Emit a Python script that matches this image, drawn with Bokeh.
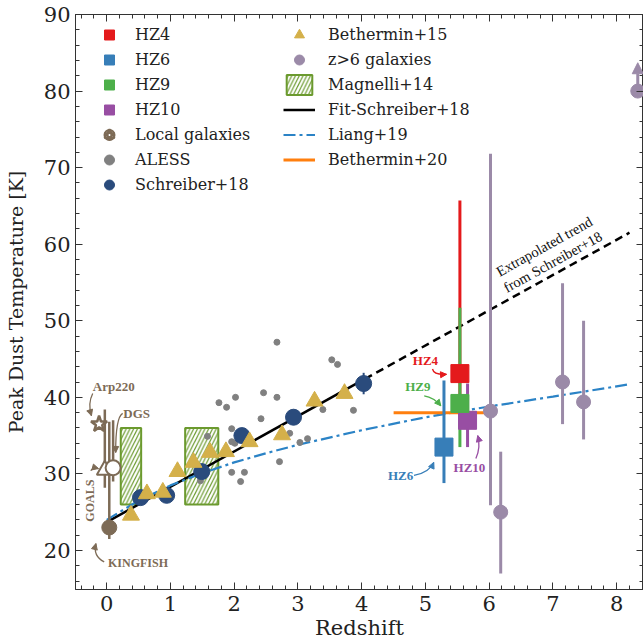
import numpy as np
from bokeh.plotting import figure
from bokeh.models import (Range1d, LinearAxis, SingleIntervalTicker, Legend, LegendItem,
                          ColumnDataSource, Arrow, NormalHead, CustomJSTickFormatter)
from bokeh.core.properties import value
from bokeh.embed import file_html
from bokeh.resources import INLINE

# ---------------- data ----------------
hz_names = ["HZ4", "HZ6", "HZ9", "HZ10"]
hz_z = [5.54, 5.29, 5.54, 5.66]
hz_T = [43.1, 33.5, 39.2, 37.0]
hz_T_lo = [36.0, 28.8, 33.5, 33.5]
hz_T_hi = [65.7, 42.2, 51.7, 41.8]
hz_colors = ["#e41a1c", "#377eb8", "#4daf4a", "#984ea3"]

local_names = ["Arp220", "GOALS", "DGS", "KINGFISH"]
local_z = [-0.12, -0.03, 0.10, 0.04]
local_T = [36.5, 30.5, 30.8, 23.0]
local_T_lo = [36.5, 28.2, 29.0, 21.5]
local_T_hi = [36.5, 38.4, 37.0, 36.8]

aless_z = [2.67, 3.53, 3.62, 1.76, 2.02, 1.88, 2.46, 2.67, 2.42, 3.39, 3.87, 1.96,
           1.96, 2.01, 1.58, 2.87, 3.15, 3.03, 2.71, 1.96, 2.16, 2.10, 1.47]
aless_T = [47.2, 44.9, 44.3, 39.3, 40.0, 38.7, 40.6, 40.0, 37.2, 38.4, 38.3, 35.9,
           34.2, 34.0, 34.9, 35.3, 34.6, 34.1, 31.6, 30.2, 30.2, 29.0, 29.1]

schreiber_z = [0.53, 0.94, 1.49, 2.12, 2.93, 4.03]
schreiber_T = [26.9, 27.2, 30.3, 35.0, 37.4, 41.8]
schreiber_err = [0.5, 0.5, 0.6, 0.8, 1.0, 1.4]

bethermin15_z = [0.38, 0.63, 0.88, 1.11, 1.36, 1.62, 1.87, 2.24, 2.75, 3.26, 3.73]
bethermin15_T = [24.6, 27.4, 27.6, 30.3, 31.5, 32.8, 32.9, 34.2, 35.1, 39.5, 40.5]

z6_z = [6.02, 6.18, 7.15, 7.48]
z6_T = [38.2, 25.0, 42.0, 39.4]
z6_T_lo = [25.9, 17.0, 36.5, 34.5]
z6_T_hi = [71.8, 32.9, 54.9, 50.0]
z6_limit_z = [8.33]
z6_limit_T = [80.0]
z6_limit_to = [83.7]

magnelli_zlo = [0.22, 1.23]
magnelli_zhi = [0.54, 1.75]
magnelli_Tlo = [26.0, 26.0]
magnelli_Thi = [36.0, 36.0]

fit_z = [0.0, 4.05]
fit_T = [23.7, 42.4]
extrap_z = [4.05, 8.2]
extrap_T = [42.4, 61.5]

liang_z = [0.0, 0.5, 1.0, 1.5, 2.0, 2.5, 3.0, 4.0, 5.0, 6.0, 7.0, 8.2]
liang_T = [24.0, 26.5, 28.5, 30.1, 31.5, 32.7, 33.8, 35.7, 37.4, 38.8, 40.1, 41.7]

bethermin20_z = [4.5, 6.0]
bethermin20_T = [38.0, 38.0]

# ---------------- styles ----------------
BROWN = "#7d6b56"
NAVY = "#2a4b7c"
GOLD = "#d4b04a"
LILAC = "#9b8aa8"
OLIVE = "#6b9a2e"
SERIF = "DejaVu Serif"
ANNF = "Liberation Serif"

p = figure(width=643, height=643, x_range=Range1d(-0.49, 8.42), y_range=Range1d(14.9, 90.0),
           output_backend="svg", toolbar_location=None,
           min_border_left=75, min_border_right=0, min_border_top=14, min_border_bottom=54)
p.xgrid.visible = False
p.ygrid.visible = False
p.outline_line_color = "#333333"
p.background_fill_color = "white"


def style_axis(ax, ticker, show_labels):
    ax.ticker = ticker
    ax.axis_line_color = "#333333"
    ax.major_tick_line_color = "#333333"
    ax.minor_tick_line_color = "#333333"
    ax.major_tick_in = 7
    ax.major_tick_out = 0
    ax.minor_tick_in = 4
    ax.minor_tick_out = 0
    ax.major_label_text_font = SERIF
    ax.major_label_text_color = "#222222"
    ax.axis_label_text_font = SERIF
    ax.axis_label_text_font_style = "normal"
    ax.axis_label_text_color = "#222222"
    if show_labels:
        ax.major_label_text_font_size = "21px"
        ax.axis_label_text_font_size = "21px"
    else:
        ax.formatter = CustomJSTickFormatter(code="return ''")
        ax.major_label_standoff = 0


xt = lambda: SingleIntervalTicker(interval=1, num_minor_ticks=5)
yt = lambda: SingleIntervalTicker(interval=10, num_minor_ticks=5)

xa = p.xaxis[0]
ya = p.yaxis[0]
style_axis(xa, xt(), True)
style_axis(ya, yt(), True)
xa.axis_label = "Redshift"
ya.axis_label = "Peak Dust Temperature [K]"
ya.axis_label_text_font_size = "19px"
xa.major_label_standoff = 6
xa.axis_label_standoff = 2
ya.major_label_standoff = 5
ya.axis_label_standoff = 14

ra = LinearAxis()
style_axis(ra, yt(), False)
p.add_layout(ra, "right")
ta = LinearAxis()
style_axis(ta, xt(), False)
p.add_layout(ta, "above")

# Magnelli+14 boxes
r_mag = p.quad(left=magnelli_zlo, right=magnelli_zhi, bottom=magnelli_Tlo, top=magnelli_Thi,
               fill_color="white", fill_alpha=0.0, line_color=OLIVE, line_width=2,
               hatch_pattern="/", hatch_color=OLIVE, hatch_scale=7.5, hatch_weight=1.2)

# lines
r_fit = p.line(fit_z, fit_T, line_color="black", line_width=2.5)
p.line(extrap_z, extrap_T, line_color="black", line_width=2.5, line_dash="8 5")
r_liang = p.line(liang_z, liang_T, line_color="#2b83c6", line_width=2.2, line_dash="12 4 3 4")
r_b20 = p.line(bethermin20_z, bethermin20_T, line_color="#ff7f0e", line_width=3)

# ALESS
r_aless = p.scatter(aless_z, aless_T, size=6, color="#808080", marker="circle")

# Schreiber+18
s_lo = [t - e for t, e in zip(schreiber_T, schreiber_err)]
s_hi = [t + e for t, e in zip(schreiber_T, schreiber_err)]
p.segment(x0=schreiber_z, y0=s_lo, x1=schreiber_z, y1=s_hi, line_color=NAVY, line_width=2)
r_sch = p.scatter(schreiber_z, schreiber_T, size=16, marker="circle", color=NAVY)

# Bethermin+15
r_b15 = p.scatter(bethermin15_z, bethermin15_T, size=17, marker="triangle", color=GOLD)

# local galaxies
p.segment(x0=local_z, y0=local_T_lo, x1=local_z, y1=local_T_hi, line_color=BROWN, line_width=2.5)
r_arp = p.scatter([local_z[0]], [local_T[0]], size=17, marker="star", fill_color="white",
                  line_color=BROWN, line_width=2.5)
r_goals = p.scatter([local_z[1]], [local_T[1]], size=16, marker="triangle", fill_color="white",
                    line_color=BROWN, line_width=2)
r_dgs = p.scatter([local_z[2]], [local_T[2]], size=15, marker="circle", fill_color="white",
                  line_color=BROWN, line_width=2)
r_kf = p.scatter([local_z[3]], [local_T[3]], size=15, marker="circle", color=BROWN)

# z>6 galaxies
p.segment(x0=z6_z, y0=z6_T_lo, x1=z6_z, y1=z6_T_hi, line_color=LILAC, line_width=3)
r_z6 = p.scatter(z6_z, z6_T, size=14, marker="circle", color=LILAC)
p.scatter(z6_limit_z, z6_limit_T, size=14, marker="circle", color=LILAC)
lim_src = ColumnDataSource(dict(x0=z6_limit_z, y0=z6_limit_T, x1=z6_limit_z, y1=z6_limit_to))
p.add_layout(Arrow(source=lim_src, x_start="x0", y_start="y0", x_end="x1", y_end="y1",
                   line_color=LILAC, line_width=3,
                   end=NormalHead(size=11, fill_color=LILAC, line_color=LILAC)))

# HZ galaxies: error bars (HZ4, HZ6, HZ9, HZ10 order -> green over red)
for i in range(4):
    p.segment(x0=[hz_z[i]], y0=[hz_T_lo[i]], x1=[hz_z[i]], y1=[hz_T_hi[i]],
              line_color=hz_colors[i], line_width=3)
r_hz = {}
for i in [1, 3, 2, 0]:
    r_hz[i] = p.scatter([hz_z[i]], [hz_T[i]], size=18, marker="square", color=hz_colors[i])

# ---------------- annotations ----------------
ann_text = ["HZ4", "HZ9", "HZ6", "HZ10", "Arp220", "DGS", "KINGFISH"]
ann_x = [5.00, 4.88, 4.61, 5.69, 0.11, 0.47, 0.49]
ann_y = [44.8, 41.4, 29.8, 30.8, 41.4, 37.9, 18.3]
ann_col = [hz_colors[0], hz_colors[2], hz_colors[1], hz_colors[3], BROWN, BROWN, BROWN]
ann_size = ["13px", "13px", "13px", "13px", "13px", "13px", "12px"]
p.text(x=ann_x, y=ann_y, text=ann_text, text_color=ann_col, text_font=value(ANNF),
       text_font_style="bold", text_font_size=ann_size, text_align="center",
       text_baseline="middle")
p.text(x=[-0.26], y=[26.5], text=["GOALS"], text_color=BROWN, text_font=value(ANNF),
       text_font_style="bold", text_font_size="12px", text_align="center",
       text_baseline="middle", angle=np.pi / 2)
p.text(x=[6.93], y=[58.7], text=["Extrapolated trend\nfrom Schreiber+18"], text_color="#111111",
       text_font=value(ANNF), text_font_size="14.5px", text_align="center",
       text_baseline="middle", angle=np.deg2rad(29), text_line_height=1.1)

# curved arrows: (x0, y0, cx, cy, x1, y1)
curves = [
    (5.11, 43.7, 5.13, 42.9, 5.33, 43.0, hz_colors[0]),
    (4.98, 40.2, 5.13, 40.0, 5.24, 38.9, hz_colors[2]),
    (4.82, 29.8, 5.06, 30.2, 5.13, 31.5, hz_colors[1]),
    (5.79, 32.0, 5.87, 33.5, 5.82, 35.0, hz_colors[3]),
    (-0.22, 40.5, -0.30, 39.2, -0.24, 37.6, BROWN),
    (0.25, 37.9, 0.14, 37.4, 0.14, 32.8, BROWN),
    (-0.25, 30.4, -0.22, 30.9, -0.13, 30.7, BROWN),
    (-0.04, 18.5, -0.22, 19.3, -0.17, 20.9, BROWN),
]
for (x0, y0, cx, cy, x1, y1, c) in curves:
    p.quadratic(x0=[x0], y0=[y0], x1=[x1], y1=[y1], cx=[cx], cy=[cy], line_color=c, line_width=1.3)
    src = ColumnDataSource(dict(xs=[x1 - 0.05 * (x1 - cx)], ys=[y1 - 0.05 * (y1 - cy)],
                                xe=[x1], ye=[y1]))
    p.add_layout(Arrow(source=src, x_start="xs", y_start="ys", x_end="xe", y_end="ye",
                       line_alpha=0, end=NormalHead(size=6, fill_color=c, line_color=c)))

# ---------------- legends ----------------
leg_common = dict(padding=0, margin=0, border_line_alpha=0, background_fill_alpha=0,
                  label_text_font=SERIF, label_text_font_size="16px", label_text_color="#222222",
                  glyph_height=25, spacing=0, label_height=20)
leg1 = Legend(items=[
    LegendItem(label=hz_names[0], renderers=[r_hz[0]]),
    LegendItem(label=hz_names[1], renderers=[r_hz[1]]),
    LegendItem(label=hz_names[2], renderers=[r_hz[2]]),
    LegendItem(label=hz_names[3], renderers=[r_hz[3]]),
    LegendItem(label="Local galaxies", renderers=[r_kf, r_dgs, r_goals, r_arp]),
    LegendItem(label="ALESS", renderers=[r_aless]),
    LegendItem(label="Schreiber+18", renderers=[r_sch]),
], location=(10, 392), glyph_width=48, label_standoff=2, **leg_common)
leg2 = Legend(items=[
    LegendItem(label="Bethermin+15", renderers=[r_b15]),
    LegendItem(label="z>6 galaxies", renderers=[r_z6]),
    LegendItem(label="Magnelli+14", renderers=[r_mag]),
    LegendItem(label="Fit-Schreiber+18", renderers=[r_fit]),
    LegendItem(label="Liang+19", renderers=[r_liang]),
    LegendItem(label="Bethermin+20", renderers=[r_b20]),
], location=(208, 417), glyph_width=32, label_standoff=13, **leg_common)
p.add_layout(leg1)
p.add_layout(leg2)

open("out.html", "w").write(file_html(p, INLINE))
